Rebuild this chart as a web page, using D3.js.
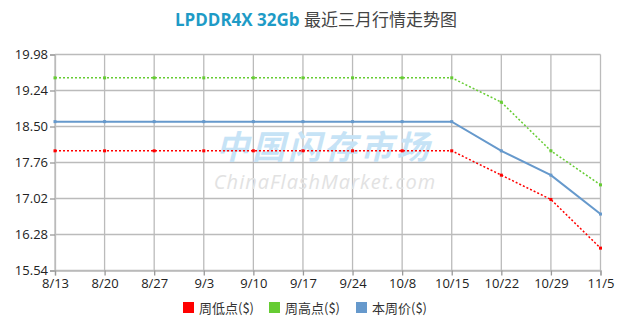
<!DOCTYPE html>
<html>
<head>
<meta charset="utf-8">
<script src="https://cdn.jsdelivr.net/npm/d3@7/dist/d3.min.js"></script>
<style>
  html, body { margin: 0; padding: 0; background: #fff; }
  svg { display: block; font-family: "Open Sans", "Noto Sans CJK SC", sans-serif; }
</style>
</head>
<body>
<svg id="chart" width="633" height="325"></svg>
<script>
const weeks = ["8/13","8/20","8/27","9/3","9/10","9/17","9/24","10/8","10/15","10/22","10/29","11/5"];
const lowPrices  = [18.0,18.0,18.0,18.0,18.0,18.0,18.0,18.0,18.0,17.5,17.0,16.0];
const highPrices = [19.5,19.5,19.5,19.5,19.5,19.5,19.5,19.5,19.5,19.0,18.0,17.3];
const weekPrices = [18.6,18.6,18.6,18.6,18.6,18.6,18.6,18.6,18.6,18.0,17.5,16.7];
const yTicks = [15.54,16.28,17.02,17.76,18.50,19.24,19.98];

const seriesList = [
  { name: "周低点($)", values: lowPrices,  color: "#ff0000", dash: "2,2", width: 1.5 },
  { name: "周高点($)", values: highPrices, color: "#66cc33", dash: "2,2", width: 1.5 },
  { name: "本周价($)", values: weekPrices, color: "#6699cc", dash: null,  width: 2 }
];

const svg = d3.select("#chart");
const plotLeft = 55, plotRight = 600.5, plotTop = 54.5, plotBottom = 270.5;

const x = d3.scalePoint().domain(weeks).range([plotLeft, plotRight]);
const y = d3.scaleLinear().domain([15.54, 19.98]).range([plotBottom, plotTop]);

// Title
const title = svg.append("text").attr("x", 316).attr("y", 26).attr("text-anchor", "middle")
  .attr("font-size", 17);
title.append("tspan").attr("fill", "#1e9bc6").attr("font-weight", "bold").text("LPDDR4X 32Gb ");
title.append("tspan").attr("fill", "#444").attr("font-family", "Noto Sans CJK SC").text("最近三月行情走势图");

// Grid
const grid = svg.append("g").attr("stroke", "#bbbbbb").attr("stroke-width", 1.3);
yTicks.forEach(v => grid.append("line").attr("x1", plotLeft).attr("x2", plotRight).attr("y1", y(v)).attr("y2", y(v)));
weeks.forEach(w => grid.append("line").attr("x1", x(w)).attr("x2", x(w)).attr("y1", plotTop).attr("y2", plotBottom));

// Watermark
svg.append("text").attr("x", 324).attr("y", 159).attr("text-anchor", "middle")
  .attr("font-family", "Noto Sans CJK SC").attr("font-size", 33).attr("font-weight", "bold").attr("font-style", "italic")
  .attr("fill", "#c6e3f6").attr("letter-spacing", 3).text("中国闪存市场");
svg.append("text").attr("x", 325).attr("y", 189).attr("text-anchor", "middle")
  .attr("font-family", "Open Sans").attr("font-size", 20).attr("font-style", "italic")
  .attr("fill", "#e2e2e2").attr("letter-spacing", 1).text("ChinaFlashMarket.com");

// Axes
const yAxis = svg.append("g").attr("transform", `translate(${plotLeft},0)`)
  .call(d3.axisLeft(y).tickValues(yTicks).tickFormat(d3.format(".2f")).tickSizeOuter(0).tickSize(5).tickPadding(2));
const xAxis = svg.append("g").attr("transform", `translate(0,${plotBottom})`)
  .call(d3.axisBottom(x).tickSizeOuter(0).tickSize(5).tickPadding(3));
[yAxis, xAxis].forEach(a => {
  a.select(".domain").attr("stroke", "#bbbbbb").attr("stroke-width", 1.3);
  a.selectAll(".tick line").attr("stroke", "#999").attr("stroke-width", 1.3);
  a.selectAll("text").attr("fill", "#222").attr("font-size", 13).attr("font-family", "Open Sans");
});

// Series
const line = d3.line().x((d, i) => x(weeks[i])).y(d => y(d));
seriesList.forEach(s => {
  svg.append("path").datum(s.values).attr("d", line).attr("fill", "none")
    .attr("stroke", s.color).attr("stroke-width", s.width)
    .attr("stroke-dasharray", s.dash);
  svg.append("g").selectAll("rect").data(s.values).join("rect")
    .attr("x", (d, i) => x(weeks[i]) - 1.5).attr("y", d => y(d) - 1.5)
    .attr("width", 3).attr("height", 3).attr("fill", s.color);
});

// Legend
const legendX = [183, 269, 356];
const legend = svg.append("g");
seriesList.forEach((s, i) => {
  legend.append("rect").attr("x", legendX[i]).attr("y", 302).attr("width", 11).attr("height", 11).attr("fill", s.color);
  legend.append("text").attr("x", legendX[i] + 16).attr("y", 312.5)
    .attr("font-size", 13).attr("fill", "#333").attr("font-family", "Noto Sans CJK SC").text(s.name);
});
</script>
</body>
</html>
